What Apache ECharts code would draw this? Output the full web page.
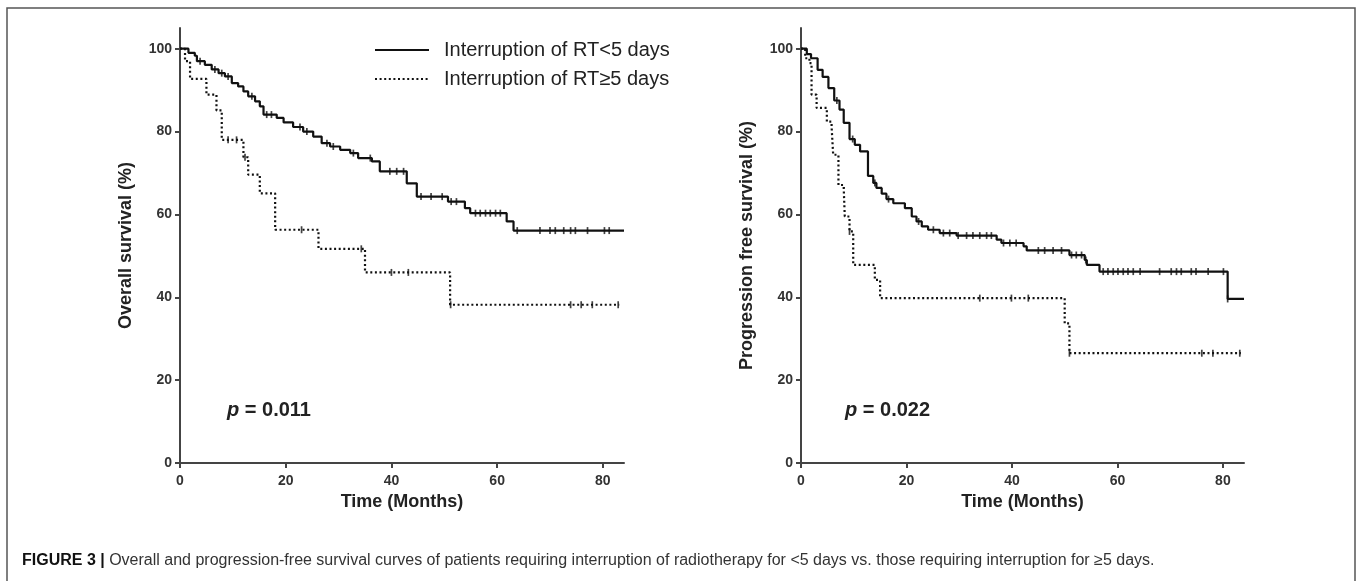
<!DOCTYPE html>
<html><head><meta charset="utf-8">
<script src="https://cdn.jsdelivr.net/npm/echarts@6/dist/echarts.min.js"></script>
<style>html,body{margin:0;padding:0;background:#fff}#c{width:1360px;height:581px}</style>
</head><body><div id="c"></div>
<script>
// ---- data ----
const seriesNames = ['Interruption of RT<5 days', 'Interruption of RT\u22655 days'];
const xTicks = [0, 20, 40, 60, 80];
const yTicks = [0, 20, 40, 60, 80, 100];
const xAxisTitle = 'Time (Months)';
const yTitleOS = 'Overall survival (%)';
const yTitlePFS = 'Progression free survival (%)';
const pTextOS = '0.011';
const pTextPFS = '0.022';

// Overall survival, interruption <5 days: [month, survival %] at each step
const osShort = [[0,100],[1.6,99],[2.8,98.3],[3.2,97],[4.7,96.1],[6.0,95],[7.3,94.1],[8.5,93.3],[9.8,91.7],[11.0,90.9],[12.0,89.7],[12.9,88.5],[14.2,87.3],[15.1,86.1],[15.8,84.1],[18.3,83.3],[19.6,82.2],[21.4,81.1],[23.3,80],[25.2,78.8],[26.8,77.2],[28.4,76.4],[30.3,75.6],[32.2,74.8],[33.7,73.6],[36.3,72.8],[37.8,70.4],[42.9,67.5],[44.8,64.3],[50.7,63.1],[53.9,61.5],[54.9,60.3],[61.8,58.3],[63.1,56.1],[84,56.1]];
const osShortCensor = [3.8,6.6,7.9,9.1,13.6,16.4,17.3,22.7,24,27.8,29,32.8,36,39.7,41,42.3,45.6,47.5,49.6,51.3,52.3,55.9,56.8,57.8,58.7,59.7,60.6,63.8,68.1,70,71,72.6,73.9,74.8,77.1,80.3,81.2];
// Overall survival, interruption >=5 days
const osLong = [[0,100],[0.95,97],[1.9,92.7],[5.0,88.9],[6.9,85.1],[7.9,78],[12.0,73.8],[12.9,69.6],[15.1,65.1],[18.0,56.3],[26.2,51.7],[35.0,46],[51.1,38.2],[83.1,38.2]];
const osLongCensor = [9.1,10.7,12.3,23.0,34.3,40.0,43.2,51.2,73.9,75.9,78.0,82.9];
// Progression free survival, interruption <5 days
const pfsShort = [[0,100],[1.1,98.7],[1.9,97.7],[3.15,94.9],[4.1,93.2],[5.2,90.5],[6.3,87.5],[7.3,85.3],[8.1,82.1],[9.2,78.2],[10.2,76.8],[11.2,75.2],[12.7,69.3],[13.7,67.6],[14.3,66.4],[15.3,65],[16.2,63.7],[17.5,62.7],[19.7,61.5],[21.0,59.5],[21.9,58.3],[22.9,57.1],[24.1,56.3],[26.3,55.5],[29.5,54.9],[37.1,53.9],[38.0,53.1],[42.2,52.3],[42.8,51.3],[50.9,50.2],[53.8,49],[54.2,47.8],[56.6,46.2],[80.9,39.6],[84,39.6]];
const pfsShortCensor = [6.8,9.8,14.0,16.6,22.3,25.1,27.0,28.2,29.8,31.4,32.6,33.9,35.2,36.1,38.4,39.6,40.8,45,46.2,47.8,49.4,51.3,52.2,53.2,54.0,57.3,58.2,59.2,60.1,61.1,62.0,63.0,64.3,68,70.2,71.2,72.1,74,74.9,77.2,80.1,80.9];
// Progression free survival, interruption >=5 days
const pfsLong = [[0,100],[0.8,97.7],[1.6,96.5],[2.0,88.9],[2.96,85.7],[4.9,82.4],[5.8,81.2],[6.1,74.4],[7.1,67.1],[8.1,66.4],[8.3,59.5],[9.2,55.9],[9.9,47.8],[14.0,44.2],[15.0,39.8],[50.0,33.7],[50.9,26.5],[83.4,26.5]];
const pfsLongCensor = [9.2,33.9,39.9,43.1,50.9,76.0,78.1,83.2];

// ---- helpers ----
function survAt(curve, t) {
  let s = curve[0][1];
  for (const p of curve) { if (p[0] <= t + 1e-9) s = p[1]; else break; }
  return s;
}
function censorPts(curve, times) { return times.map(t => [t, survAt(curve, t)]); }

const F = 'Liberation Sans, Arial, sans-serif';
const AX = '#444';
const INK = '#111';

function xAxisCfg(gi) {
  return {
    type: 'value', gridIndex: gi, min: 0, max: 84,
    name: xAxisTitle, nameLocation: 'middle', nameGap: 29,
    nameTextStyle: { fontFamily: F, fontWeight: 'bold', fontSize: 18, color: '#222' },
    axisLine: { show: true, onZero: false, lineStyle: { color: AX, width: 2 } },
    axisTick: { show: true, length: 5, customValues: xTicks, lineStyle: { color: AX, width: 2 } },
    axisLabel: { customValues: xTicks, fontFamily: F, fontWeight: 'bold', fontSize: 14, color: '#333', margin: 11 },
    splitLine: { show: false }
  };
}
function yAxisCfg(gi, title) {
  return {
    type: 'value', gridIndex: gi, min: 0, max: 105,
    name: title, nameLocation: 'middle', nameGap: 45,
    nameTextStyle: { fontFamily: F, fontWeight: 'bold', fontSize: 18, color: '#222' },
    axisLine: { show: true, onZero: false, lineStyle: { color: AX, width: 2 } },
    axisTick: { show: true, length: 5, customValues: yTicks, lineStyle: { color: AX, width: 2 } },
    axisLabel: { customValues: yTicks, fontFamily: F, fontWeight: 'bold', fontSize: 14, color: '#333', margin: 8 },
    splitLine: { show: false }
  };
}
const DOT = [2, 2.6];
function curve(name, gi, data, dotted) {
  return {
    type: 'line', name: name, xAxisIndex: gi, yAxisIndex: gi, data: data, step: 'end',
    symbol: 'none', showSymbol: false, z: 3,
    lineStyle: { color: INK, width: 2.2, type: dotted ? DOT : 'solid', cap: 'butt' },
    itemStyle: { color: INK }
  };
}
function censor(gi, pts) {
  return {
    type: 'scatter', name: 'censored', xAxisIndex: gi, yAxisIndex: gi, data: pts,
    symbol: 'rect', symbolSize: [1.7, 7], itemStyle: { color: INK }, silent: true, z: 4
  };
}
function pLabel(x, val) {
  return {
    type: 'text', x: x, y: 410,
    style: {
      text: '{i|p} = ' + val,
      rich: { i: { fontStyle: 'italic', fontWeight: 'bold', fontSize: 20, fontFamily: F, fill: '#222' } },
      fontWeight: 'bold', fontSize: 20, fontFamily: F, fill: '#222', verticalAlign: 'middle'
    }
  };
}

const chart = echarts.init(document.getElementById('c'), null, { renderer: 'canvas' });
chart.setOption({
  animation: false,
  backgroundColor: '#fff',
  grid: [
    { left: 180, top: 28, width: 444, height: 435 },
    { left: 801, top: 28, width: 443, height: 435 }
  ],
  xAxis: [xAxisCfg(0), xAxisCfg(1)],
  yAxis: [yAxisCfg(0, yTitleOS), yAxisCfg(1, yTitlePFS)],
  legend: {
    data: seriesNames, orient: 'vertical', left: 374, top: 40, padding: 0,
    itemWidth: 54, itemHeight: 14, itemGap: 9, selectedMode: false,
    itemStyle: { opacity: 0, borderWidth: 0 },
    textStyle: { fontFamily: F, fontSize: 20, color: '#222', padding: [0, 0, 0, 10] }
  },
  series: [
    curve(seriesNames[0], 0, osShort, false),
    curve(seriesNames[1], 0, osLong, true),
    censor(0, censorPts(osShort, osShortCensor)),
    censor(0, censorPts(osLong, osLongCensor)),
    curve(seriesNames[0], 1, pfsShort, false),
    curve(seriesNames[1], 1, pfsLong, true),
    censor(1, censorPts(pfsShort, pfsShortCensor)),
    censor(1, censorPts(pfsLong, pfsLongCensor))
  ],
  graphic: [
    { type: 'polyline', shape: { points: [[7, 581], [7, 8], [1355, 8], [1355, 581]] },
      style: { stroke: '#555', lineWidth: 1.5, fill: null }, silent: true },
    pLabel(227, pTextOS),
    pLabel(845, pTextPFS),
    { type: 'text', x: 22, y: 561,
      style: {
        text: '{b|FIGURE 3 |} Overall and progression-free survival curves of patients requiring interruption of radiotherapy for <5 days vs. those requiring interruption for \u22655 days.',
        rich: { b: { fontWeight: 'bold', fontSize: 16, fontFamily: F, fill: '#111' } },
        fontSize: 16, fontFamily: F, fill: '#333', verticalAlign: 'middle'
      } }
  ]
});
</script></body></html>
